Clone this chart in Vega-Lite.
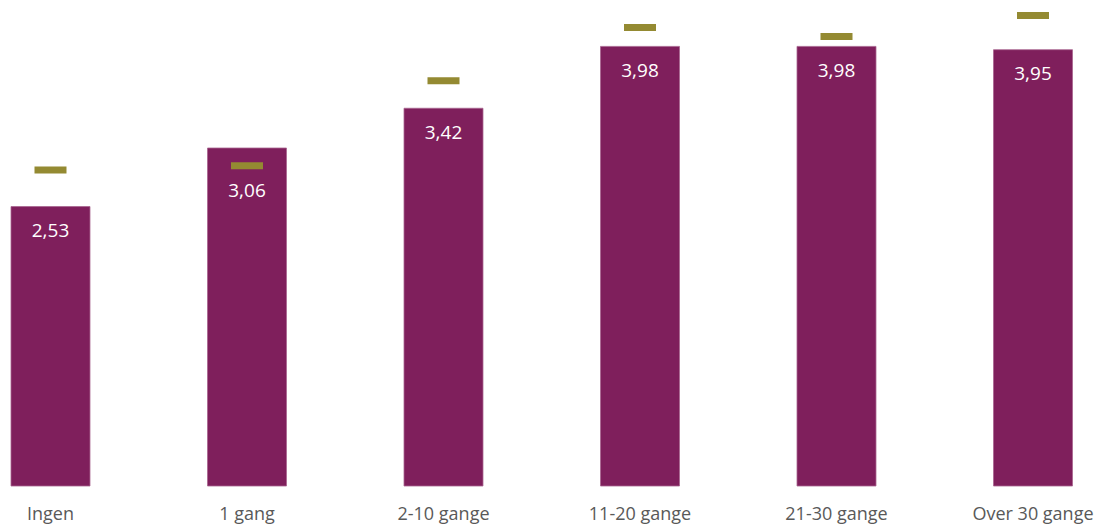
{
  "$schema": "https://vega.github.io/schema/vega-lite/v6.json",
  "autosize": "none",
  "width": 1061.5,
  "height": 486,
  "padding": {"left": 11, "top": 0, "right": 30.5, "bottom": 41},
  "background": "white",
  "config": {
    "view": {"stroke": null},
    "font": "Open Sans",
    "locale": {"number": {"decimal": ",", "thousands": ".", "grouping": [3], "currency": ["", " kr"]}}
  },
  "data": {
    "values": [
      {"kategori": "Ingen", "verdi": 2.53, "sammenligning": 2.86},
      {"kategori": "1 gang", "verdi": 3.06, "sammenligning": 2.90},
      {"kategori": "2-10 gange", "verdi": 3.42, "sammenligning": 3.67},
      {"kategori": "11-20 gange", "verdi": 3.98, "sammenligning": 4.15},
      {"kategori": "21-30 gange", "verdi": 3.98, "sammenligning": 4.07},
      {"kategori": "Over 30 gange", "verdi": 3.95, "sammenligning": 4.26}
    ]
  },
  "encoding": {
    "x": {
      "field": "kategori",
      "type": "nominal",
      "sort": null,
      "scale": {"paddingInner": 0.598, "paddingOuter": 0},
      "axis": {
        "title": null,
        "labelAngle": 0,
        "ticks": false,
        "domain": false,
        "labelFontSize": 18,
        "labelColor": "#595959",
        "labelFont": "Open Sans",
        "labelBaseline": "alphabetic",
        "labelPadding": 33
      }
    }
  },
  "layer": [
    {
      "mark": {"type": "bar", "color": "#7F1F5C", "stroke": "#A8658F", "strokeWidth": 0.8},
      "encoding": {
        "y": {"field": "verdi", "type": "quantitative", "scale": {"domain": [0, 4.4], "nice": false, "zero": true}, "axis": null}
      }
    },
    {
      "transform": [{"filter": "datum.kategori !== '1 gang'"}],
      "mark": {"type": "text", "color": "white", "fontSize": 19, "font": "Open Sans", "baseline": "alphabetic", "dy": 30.5},
      "encoding": {
        "y": {"field": "verdi", "type": "quantitative"},
        "text": {"field": "verdi", "type": "quantitative", "format": ".2f"}
      }
    },
    {
      "transform": [{"filter": "datum.kategori === '1 gang'"}],
      "mark": {"type": "text", "color": "white", "fontSize": 19, "font": "Open Sans", "baseline": "alphabetic", "dy": 49},
      "encoding": {
        "y": {"field": "verdi", "type": "quantitative"},
        "text": {"field": "verdi", "type": "quantitative", "format": ".2f"}
      }
    },
    {
      "mark": {"type": "tick", "color": "#948A32", "opacity": 1, "size": 32, "thickness": 7},
      "encoding": {
        "y": {"field": "sammenligning", "type": "quantitative"}
      }
    }
  ]
}
